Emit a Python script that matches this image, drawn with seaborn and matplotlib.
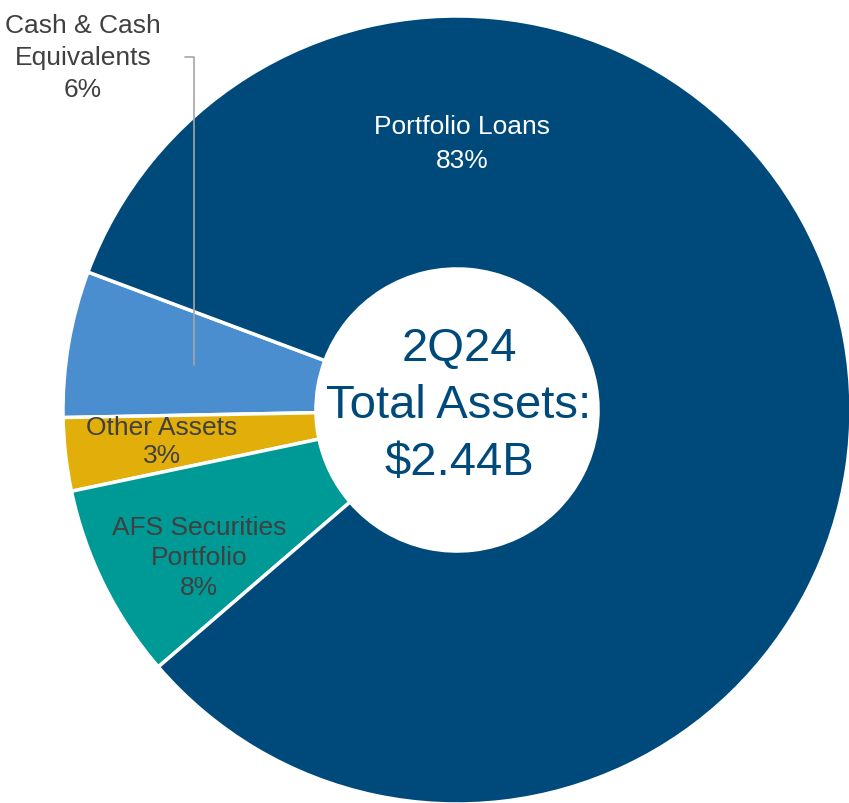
import seaborn as sns
import matplotlib.pyplot as plt

sns.set_theme(style="white")
plt.rcParams['font.family'] = ['Liberation Sans', 'DejaVu Sans']

# slice order runs counter-clockwise from the upper left
categories = ['Cash & Cash\nEquivalents', 'Other Assets', 'AFS Securities\nPortfolio', 'Portfolio Loans']
shares = [6, 3, 8, 83]
colors = ['#4A8ECF', '#E1AE0A', '#009A96', '#004A7B']
center_lines = ['2Q24', 'Total Assets:', '$2.44B']

W, H = 849, 804
fig = plt.figure(figsize=(W / 100, H / 100), dpi=100)
ax = fig.add_axes([0, 0, 1, 1])

cx, cy, r = 457, H - 411, 394
wedges, _ = ax.pie(shares, colors=colors, startangle=159.5, counterclock=True,
                   center=(cx, cy), radius=r, frame=True,
                   wedgeprops=dict(width=r * 0.642, edgecolor='white', linewidth=2.5))
ax.set_xlim(0, W)
ax.set_ylim(0, H)
ax.set_aspect('equal')
ax.axis('off')

# labels
dark = '#404040'
lbl = lambda i: f"{categories[i]}\n{shares[i]}%"
ax.text(83, H - 58, lbl(0), ha='center', va='center', fontsize=19, color=dark, linespacing=1.4)
ax.text(162, H - 442, lbl(1), ha='center', va='center', fontsize=19, color=dark, linespacing=1.24)
ax.text(199, H - 558, lbl(2), ha='center', va='center', fontsize=19, color=dark, linespacing=1.3)
ax.text(462, H - 144, lbl(3), ha='center', va='center', fontsize=19, color='white', linespacing=1.55)

# leader line for cash slice
ax.plot([185, 194, 194], [H - 58, H - 58, H - 366], color='#A6A6A6', linewidth=1.2)

ax.text(459, H - 406, '\n'.join(center_lines), ha='center', va='center',
        fontsize=34, color='#004A7B', linespacing=1.38)

fig.savefig('out.png', dpi=100)
